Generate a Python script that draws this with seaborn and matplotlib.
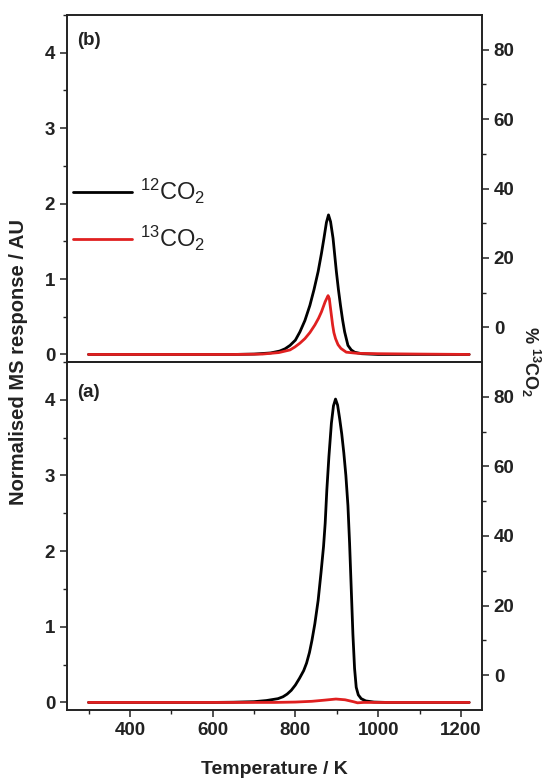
import numpy as np
import pandas as pd
import matplotlib
matplotlib.use("Agg")
import matplotlib.pyplot as plt
from matplotlib.lines import Line2D
from matplotlib.ticker import MultipleLocator
import seaborn as sns

# ---- (b) panel: TPO traces ----
temp_b_12 = [300, 650, 700, 740, 762, 775, 787, 800, 811, 823, 835, 845, 855, 863, 869, 875, 880, 885, 891,
             895, 899, 904, 909, 914, 919, 927, 935, 943, 960, 1000, 1220]
co2_b_12 = [0, 0, 0.005, 0.02, 0.045, 0.075, 0.12, 0.19, 0.30, 0.45, 0.65, 0.86, 1.10, 1.34, 1.54, 1.75, 1.85, 1.76, 1.54,
            1.32, 1.10, 0.86, 0.65, 0.46, 0.30, 0.12, 0.06, 0.03, 0.01, 0, 0]

temp_b_13 = [300, 650, 720, 760, 787, 799, 811, 823, 835, 847, 856, 863, 872, 879, 882, 884, 887, 890, 893, 897,
             903, 910, 923, 950, 1000, 1100, 1220]
co2_b_13 = [0, 0, 0.005, 0.025, 0.06, 0.10, 0.15, 0.21, 0.29, 0.39, 0.48, 0.565, 0.70, 0.78, 0.74, 0.65, 0.52, 0.39, 0.29, 0.21,
            0.13, 0.08, 0.03, 0.015, 0.01, 0.005, 0]

# ---- (a) panel ----
temp_a_12 = [300, 600, 650, 700, 730, 758, 770, 780, 790, 800, 810, 820, 827, 834, 840, 847, 855, 862, 868, 872, 876, 881,
             887, 892, 897, 902, 907, 912, 917, 922, 927, 931, 935, 939, 943, 947, 952, 959, 970, 990, 1020, 1220]
co2_a_12 = [0, 0, 0.003, 0.01, 0.025, 0.05, 0.075, 0.11, 0.16, 0.23, 0.32, 0.42, 0.52, 0.66, 0.82, 1.04, 1.35, 1.72, 2.06,
            2.37, 2.81, 3.25, 3.69, 3.92, 4.01, 3.93, 3.75, 3.55, 3.3, 3.0, 2.6, 2.1, 1.5, 0.9, 0.45, 0.2, 0.1, 0.05,
            0.02, 0.005, 0, 0]

temp_a_13 = [300, 750, 800, 840, 870, 898, 920, 940, 950, 965, 1000, 1220]
co2_a_13 = [0, 0, 0.005, 0.015, 0.03, 0.045, 0.035, 0.01, -0.005, 0, 0, 0]

series_labels = [r"$^{12}$CO$_2$", r"$^{13}$CO$_2$"]
series_colors = ["#000000", "#e02020"]

sns.set_style("ticks")
plt.rcParams["font.family"] = ["Liberation Sans", "DejaVu Sans"]
plt.rcParams["mathtext.default"] = "regular"
plt.rcParams["axes.linewidth"] = 1.2
text_color = "#222222"

fig = plt.figure(figsize=(5.45, 7.81), dpi=100)
left, right = 67 / 545, 482 / 545
ax_b = fig.add_axes([left, 1 - 362 / 781, right - left, (362 - 15) / 781])
ax_a = fig.add_axes([left, 1 - 710 / 781, right - left, (710 - 362) / 781])

panels = [
    (ax_b, temp_b_12, co2_b_12, temp_b_13, co2_b_13, "(b)", 0.952),
    (ax_a, temp_a_12, co2_a_12, temp_a_13, co2_a_13, "(a)", 0.936),
]

for ax, t12, v12, t13, v13, tag, tag_y in panels:
    sns.lineplot(x=t12, y=v12, ax=ax, color=series_colors[0], lw=2.0, estimator=None, sort=False)
    sns.lineplot(x=t13, y=v13, ax=ax, color=series_colors[1], lw=2.0, estimator=None, sort=False)
    ax.set_xlim(248, 1251)
    ax.set_ylim(-0.1, 4.5)
    ax.yaxis.set_major_locator(MultipleLocator(1))
    ax.yaxis.set_minor_locator(MultipleLocator(0.5))
    ax.xaxis.set_major_locator(MultipleLocator(200))
    ax.xaxis.set_minor_locator(MultipleLocator(100))
    ax.tick_params(axis="both", which="major", direction="out", length=5, width=1.1,
                   labelsize=13.5, colors=text_color, top=False, right=False)
    ax.tick_params(axis="both", which="minor", direction="out", length=3, width=1.0,
                   top=False, right=False, colors=text_color)
    for lbl in ax.get_yticklabels():
        lbl.set_fontweight("bold")
    for s in ax.spines.values():
        s.set_visible(True)
        s.set_color(text_color)
    ax.set_xlabel("")
    ax.set_ylabel("")
    ax.text(0.025, tag_y, tag, transform=ax.transAxes, fontsize=13.5, fontweight="bold",
            color=text_color, va="top", ha="left")

    # secondary scale for % 13CO2
    ax2 = ax.twinx()
    ax2.set_ylim(-10, 90)
    ax2.set_yticks([0, 20, 40, 60, 80])
    ax2.set_yticks([10, 30, 50, 70], minor=True)
    ax2.tick_params(axis="y", which="major", direction="out", length=5, width=1.1,
                    labelsize=13.5, colors=text_color)
    ax2.tick_params(axis="y", which="minor", direction="out", length=3, width=1.0, colors=text_color)
    for lbl in ax2.get_yticklabels():
        lbl.set_fontweight("bold")
    for s in ax2.spines.values():
        s.set_color(text_color)
        s.set_linewidth(1.2)

ax_b.tick_params(axis="x", labelbottom=False)
for lbl in ax_a.get_xticklabels():
    lbl.set_fontweight("bold")

handles = [Line2D([], [], color=c, lw=2.0) for c in series_colors]
ax_b.legend(handles, series_labels, loc="upper left", bbox_to_anchor=(-0.025, 0.58),
            frameon=False, fontsize=17, handlelength=2.5, handletextpad=0.35,
            labelspacing=0.75, borderaxespad=0.3, labelcolor=text_color)

fig.text(19 / 545, 1 - 362 / 781, "Normalised MS response / AU", rotation=90, fontsize=14.5,
         fontweight="bold", color=text_color, ha="center", va="center")
fig.text(531 / 545, 1 - 362 / 781, r"% $^{13}$CO$_2$", rotation=270, fontsize=13,
         fontweight="bold", color=text_color, ha="center", va="center")
fig.text((67 + 482) / 2 / 545, 1 - 770 / 781, "Temperature / K", fontsize=14,
         fontweight="bold", color=text_color, ha="center", va="center")

fig.savefig("out.png", dpi=100)
